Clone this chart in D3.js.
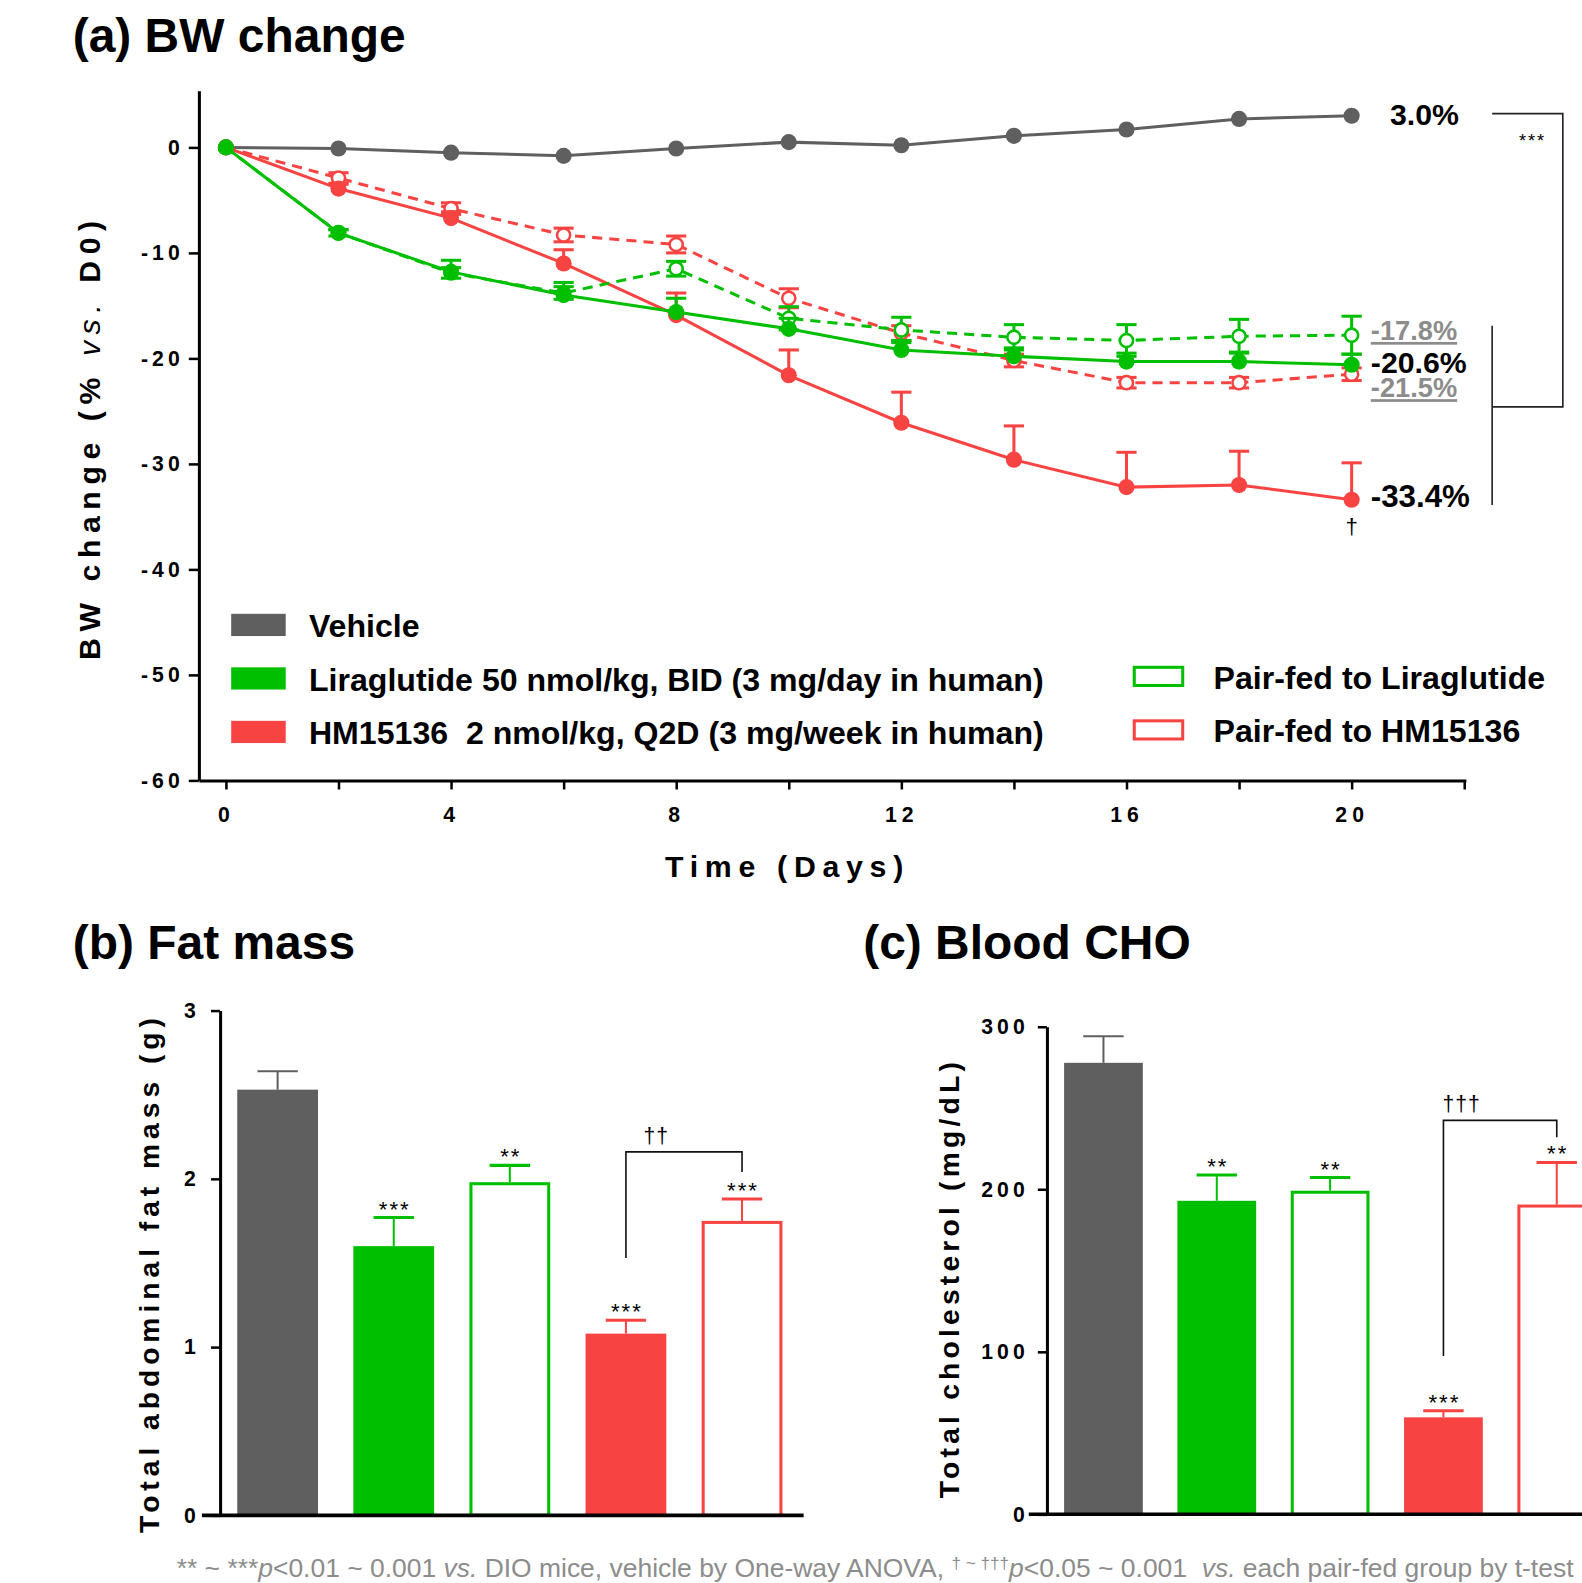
<!DOCTYPE html>
<html>
<head>
<meta charset="utf-8">
<script src="https://cdn.jsdelivr.net/npm/d3@7"></script>
<style>
  body { margin: 0; background: #fff; }
  svg { display: block; font-family: "Liberation Sans", Arial, sans-serif; }
  text { white-space: pre; }
</style>
</head>
<body>
<svg id="fig" width="1582" height="1583" viewBox="0 0 1567 1568"></svg>
<script>
// ---- (a) body weight change, % vs. D0 ----
const days = [0, 2, 4, 6, 8, 10, 12, 14, 16, 18, 20]
const vehicleBW = [0, -0.1, -0.5, -0.8, -0.1, 0.5, 0.2, 1.1, 1.7, 2.7, 3.0]
const liraBW = [0, -8.1, -11.8, -14.0, -15.6, -17.2, -19.2, -19.8, -20.3, -20.3, -20.6]
const liraErr = [0, 0.3, 1.1, 1.2, 1.3, 1.0, 0.9, 0.8, 0.8, 0.9, 1.0]
const pairLiraBW = [0, -8.1, -11.9, -13.8, -11.5, -16.2, -17.3, -18.0, -18.3, -17.9, -17.8]
const pairLiraErr = [0, 0.3, 0.5, 0.6, 0.7, 1.1, 1.2, 1.2, 1.5, 1.6, 1.8]
const hmBW = [0, -3.9, -6.7, -11.0, -15.9, -21.6, -26.1, -29.6, -32.2, -32.0, -33.4]
const hmErr = [0, 0.4, 0.6, 1.3, 2.1, 2.4, 2.9, 3.2, 3.3, 3.2, 3.5]
const pairHmBW = [0, -2.9, -5.8, -8.3, -9.2, -14.3, -17.6, -20.2, -22.3, -22.3, -21.5]
const pairHmErr = [0, 0.5, 0.55, 0.65, 0.8, 0.9, 0.7, 0.6, 0.5, 0.5, 0.6]

const legendLeft = ['Vehicle', 'Liraglutide 50 nmol/kg, BID (3 mg/day in human)', 'HM15136  2 nmol/kg, Q2D (3 mg/week in human)']
const legendRight = ['Pair-fed to Liraglutide', 'Pair-fed to HM15136']

// ---- (b) fat mass, (c) cholesterol ----
const groups = ['Vehicle', 'Liraglutide', 'Pair-fed Liraglutide', 'HM15136', 'Pair-fed HM15136']
const fatMass = [2.53, 1.60, 1.98, 1.08, 1.75]
const fatErr = [0.11, 0.17, 0.10, 0.08, 0.13]
const fatStars = ['', '***', '**', '***', '***']
const cholesterol = [277.8, 192.9, 199.1, 59.7, 190.6]
const cholErr = [16.4, 15.9, 8.1, 4.1, 25.9]
const cholStars = ['', '**', '**', '***', '**']

const GRAY = '#5f5f5f'
const GREEN = '#00bf00'
const RED = '#f84343'
const NOTE = '#8c8c8c'

const svg = d3.select('#fig')

// spread letters so a label covers a given length (Prism-like spacing)
const spread = (sel, target) => {
  sel.each(function () {
    this.setAttribute('letter-spacing', 0)
    const w = this.getComputedTextLength()
    const k = this.textContent.length
    this.setAttribute('letter-spacing', (target - w) / (k - 1))
  })
}

const styleAxis = (g, size, spacing) => {
  g.attr('font-family', null).attr('font-size', null)
  g.select('.domain').attr('stroke', '#000').attr('stroke-width', 3)
  g.selectAll('.tick line').attr('stroke', '#000').attr('stroke-width', 2.5)
  g.selectAll('.tick text')
    .attr('fill', '#000')
    .attr('font-size', size)
    .attr('font-weight', 'bold')
    .attr('letter-spacing', spacing)
}

// panel titles
const titles = [['(a) BW change', 72, 52], ['(b) Fat mass', 72, 950], ['(c) Blood CHO', 855, 950]]
svg.selectAll('text.title')
  .data(titles)
  .enter()
  .append('text')
  .classed('title', true)
  .attr('x', (d) => d[1])
  .attr('y', (d) => d[2])
  .attr('font-size', 47.5)
  .attr('font-weight', 'bold')
  .text((d) => d[0])

// ================= (a) =================
const x = d3.scaleLinear().domain([-0.48, 22.03]).range([197, 1452])
const y = d3.scaleLinear().domain([-60, 5.36]).range([773, 90])

const gx = svg.append('g')
  .attr('transform', 'translate(0,773)')
  .call(d3.axisBottom(x)
    .tickValues(d3.range(0, 23, 2))
    .tickFormat((d) => (d % 4 === 0 && d <= 20) ? String(d) : '')
    .tickSize(9)
    .tickPadding(17)
    .tickSizeOuter(0))
styleAxis(gx, 21, 5)

const gy = svg.append('g')
  .attr('transform', 'translate(197,0)')
  .call(d3.axisLeft(y)
    .tickValues(d3.range(-60, 1, 10))
    .tickFormat((d) => String(d))
    .tickSize(10)
    .tickPadding(5)
    .tickSizeOuter(0))
styleAxis(gy, 21, 4)

const xTitle = svg.append('text')
  .attr('x', 780)
  .attr('y', 869)
  .attr('text-anchor', 'middle')
  .attr('font-size', 30)
  .attr('font-weight', 'bold')
  .text('Time (Days)')
spread(xTitle, 236)

const yTitle = svg.append('text')
  .attr('transform', 'translate(99,433) rotate(-90)')
  .attr('text-anchor', 'middle')
  .attr('font-size', 30)
  .attr('font-weight', 'bold')
yTitle.append('tspan').text('BW change (% ')
yTitle.append('tspan').attr('font-style', 'italic').attr('font-weight', 'normal').text('vs.')
yTitle.append('tspan').text(' D0)')
spread(yTitle, 435)

const series = [
  {values: vehicleBW, err: null, color: GRAY, open: false},
  {values: pairHmBW, err: pairHmErr, color: RED, open: true},
  {values: hmBW, err: hmErr, color: RED, open: false},
  {values: pairLiraBW, err: pairLiraErr, color: GREEN, open: true},
  {values: liraBW, err: liraErr, color: GREEN, open: false}
]

const line = d3.line()
  .x((d, i) => x(days[i]))
  .y((d) => y(d))

const plot = svg.append('g').classed('series', true)
series.forEach((s) => {
  const g = plot.append('g')
  if (s.err) {
    const pts = days.map((d, i) => ({day: d, v: s.values[i], e: s.err[i]})).filter((p) => p.e > 0)
    const hi = (p) => y(p.v + p.e)
    const lo = (p) => y(p.v - p.e)
    g.selectAll('line.err')
      .data(pts)
      .enter()
      .append('line')
      .classed('err', true)
      .attr('x1', (p) => x(p.day))
      .attr('x2', (p) => x(p.day))
      .attr('y1', (p) => s.open ? lo(p) : y(p.v))
      .attr('y2', hi)
      .attr('stroke', s.color)
      .attr('stroke-width', 3)
    g.selectAll('line.cap')
      .data(s.open ? pts.concat(pts.map((p) => ({day: p.day, v: p.v, e: -p.e}))) : pts)
      .enter()
      .append('line')
      .classed('cap', true)
      .attr('x1', (p) => x(p.day) - 10)
      .attr('x2', (p) => x(p.day) + 10)
      .attr('y1', hi)
      .attr('y2', hi)
      .attr('stroke', s.color)
      .attr('stroke-width', 3)
  }
  g.append('path')
    .datum(s.values)
    .attr('d', line)
    .attr('fill', 'none')
    .attr('stroke', s.color)
    .attr('stroke-width', 3)
    .attr('stroke-dasharray', s.open ? '10,7' : null)
  g.selectAll('circle')
    .data(s.values)
    .enter()
    .append('circle')
    .attr('cx', (d, i) => x(days[i]))
    .attr('cy', (d) => y(d))
    .attr('r', s.open ? 6.5 : 8)
    .attr('fill', s.open ? '#fff' : s.color)
    .attr('stroke', s.color)
    .attr('stroke-width', s.open ? 2.5 : 0)
})

// end-of-study values
const last = days.length - 1
const endLabels = [
  {v: vehicleBW[last], dx: 38, dy: -2, size: 30, color: '#000', under: false},
  {v: pairLiraBW[last], dx: 19, dy: -5, size: 27, color: NOTE, under: true},
  {v: liraBW[last], dx: 19, dy: -3, size: 30, color: '#000', under: false},
  {v: pairHmBW[last], dx: 19, dy: 13, size: 27, color: NOTE, under: true},
  {v: hmBW[last], dx: 19, dy: -4, size: 31, color: '#000', under: false}
]
svg.selectAll('text.endlabel')
  .data(endLabels)
  .enter()
  .append('text')
  .classed('endlabel', true)
  .attr('x', (d) => x(days[last]) + d.dx)
  .attr('y', (d) => y(d.v) + d.dy)
  .attr('dy', '0.36em')
  .attr('font-size', (d) => d.size)
  .attr('font-weight', 'bold')
  .attr('fill', (d) => d.color)
  .attr('text-decoration', (d) => d.under ? 'underline' : null)
  .text((d) => d.v.toFixed(1) + '%')

svg.append('text')
  .attr('x', x(days[last]))
  .attr('y', y(hmBW[last]) + 34)
  .attr('text-anchor', 'middle')
  .attr('font-size', 22)
  .text('\u2020')

// significance brackets
const br = svg.append('g').attr('stroke', '#222').attr('stroke-width', 1.6).attr('fill', 'none')
br.append('path')
  .attr('d', 'M1478,' + y(vehicleBW[last] + 0.2) + 'H1548V' + y(-24.6) + 'H1478')
br.append('line')
  .attr('x1', 1478).attr('x2', 1478)
  .attr('y1', y(-16.9)).attr('y2', y(-33.9))
svg.append('text')
  .attr('x', 1518)
  .attr('y', 146)
  .attr('text-anchor', 'middle')
  .attr('font-size', 18)
  .attr('letter-spacing', 2)
  .text('***')

// legend
const colorsLeft = [GRAY, GREEN, RED]
const leg = svg.append('g').classed('legend', true)
legendLeft.forEach((name, i) => {
  const cy = 619 + i * 53
  leg.append('rect')
    .attr('x', 229).attr('y', cy - 11)
    .attr('width', 54).attr('height', 22)
    .attr('fill', colorsLeft[i])
  leg.append('text')
    .attr('x', 306).attr('y', cy + 12)
    .attr('font-size', 31.8).attr('font-weight', 'bold')
    .text(name)
})
const colorsRight = [GREEN, RED]
legendRight.forEach((name, i) => {
  const cy = 670 + i * 53
  leg.append('rect')
    .attr('x', 1123.5).attr('y', cy - 9)
    .attr('width', 48).attr('height', 18)
    .attr('fill', '#fff')
    .attr('stroke', colorsRight[i])
    .attr('stroke-width', 3)
  leg.append('text')
    .attr('x', 1202).attr('y', cy + 12)
    .attr('font-size', 31.8).attr('font-weight', 'bold')
    .text(name)
})

// ================= bar panels =================
const barColors = [GRAY, GREEN, GREEN, RED, RED]
const barOpen = [false, false, true, false, true]

const drawBars = ({values, errs, stars, centers, yDomain, yRange, ticks, axisX, xEnd, barW, pad, label, labelX, labelY, labelLen, bracket, daggers, daggerDx}) => {
  const bx = d3.scalePoint().domain(groups).range(centers)
  const by = d3.scaleLinear().domain(yDomain).range(yRange)
  const g = svg.append('g')
  const rows = groups.map((k, i) => ({k, v: values[i], e: errs[i], s: stars[i], c: barColors[i], open: barOpen[i]}))

  const bar = g.selectAll('g.bar')
    .data(rows)
    .enter()
    .append('g')
    .classed('bar', true)
  bar.append('line')
    .attr('x1', (d) => bx(d.k)).attr('x2', (d) => bx(d.k))
    .attr('y1', (d) => by(d.v)).attr('y2', (d) => by(d.v + d.e))
    .attr('stroke', (d) => d.c).attr('stroke-width', 2)
  bar.append('line')
    .attr('x1', (d) => bx(d.k) - 20).attr('x2', (d) => bx(d.k) + 20)
    .attr('y1', (d) => by(d.v + d.e)).attr('y2', (d) => by(d.v + d.e))
    .attr('stroke', (d) => d.c).attr('stroke-width', (d) => d.k === groups[0] ? 2 : 3)
  bar.append('rect')
    .attr('x', (d) => bx(d.k) - barW / 2 + (d.open ? 1.5 : 0))
    .attr('y', (d) => by(d.v) + (d.open ? 1.5 : 0))
    .attr('width', (d) => barW - (d.open ? 3 : 0))
    .attr('height', (d) => by(yDomain[0]) - by(d.v) - (d.open ? 1.5 : 0))
    .attr('fill', (d) => d.open ? '#fff' : d.c)
    .attr('stroke', (d) => d.open ? d.c : 'none')
    .attr('stroke-width', 3)
  bar.append('text')
    .attr('x', (d) => bx(d.k) + 1)
    .attr('y', (d) => by(d.v + d.e) - 1)
    .attr('text-anchor', 'middle')
    .attr('font-size', 22)
    .attr('letter-spacing', 2)
    .text((d) => d.s)

  // x baseline
  g.append('line')
    .attr('x1', axisX - 18).attr('x2', xEnd)
    .attr('y1', by(yDomain[0])).attr('y2', by(yDomain[0]))
    .attr('stroke', '#000').attr('stroke-width', 3.5)

  const ay = g.append('g')
    .attr('transform', 'translate(' + axisX + ',0)')
    .call(d3.axisLeft(by)
      .tickValues(ticks)
      .tickFormat((d) => String(d))
      .tickSize(9)
      .tickPadding(pad)
      .tickSizeOuter(0))
  styleAxis(ay, 21, 4)

  const t = g.append('text')
    .attr('transform', 'translate(' + labelX + ',' + labelY + ') rotate(-90)')
    .attr('text-anchor', 'middle')
    .attr('font-size', 28)
    .attr('font-weight', 'bold')
    .text(label)
  spread(t, labelLen)

  // pair-fed comparison
  const [from, to, vLow, vTop, vRight] = bracket
  g.append('path')
    .attr('d', 'M' + bx(groups[from]) + ',' + by(vLow) + 'V' + by(vTop) + 'H' + bx(groups[to]) + 'V' + by(vRight))
    .attr('fill', 'none').attr('stroke', '#111').attr('stroke-width', 1.6)
  g.append('text')
    .attr('x', bx(groups[from]) + daggerDx)
    .attr('y', by(vTop) - 9)
    .attr('text-anchor', 'middle')
    .attr('font-size', 21)
    .attr('letter-spacing', 1)
    .text(daggers)
}

drawBars({
  values: fatMass, errs: fatErr, stars: fatStars,
  centers: [275, 735], yDomain: [0, 3], yRange: [1501, 1001], ticks: [0, 1, 2, 3],
  axisX: 218, xEnd: 796, barW: 80, pad: 11,
  label: 'Total abdominal fat mass (g)', labelX: 157, labelY: 1261, labelLen: 510,
  bracket: [3, 4, 1.53, 2.16, 2.04], daggers: '\u2020\u2020', daggerDx: 30
})

drawBars({
  values: cholesterol, errs: cholErr, stars: cholStars,
  centers: [1093, 1542], yDomain: [0, 300], yRange: [1500, 1017], ticks: [0, 100, 200, 300],
  axisX: 1037, xEnd: 1600, barW: 78, pad: 9,
  label: 'Total cholesterol (mg/dL)', labelX: 950, labelY: 1266, labelLen: 432,
  bracket: [3, 4, 97.4, 242.4, 232.0], daggers: '\u2020\u2020\u2020', daggerDx: 18
})

// footnote
const note = svg.append('text')
  .attr('x', 175)
  .attr('y', 1562)
  .attr('font-size', 26.2)
  .attr('fill', NOTE)
const part = (txt, opts = {}) => {
  const ts = note.append('tspan').text(txt)
  if (opts.italic) ts.attr('font-style', 'italic')
  if (opts.sup) ts.attr('font-size', 17).attr('baseline-shift', '45%')
  return ts
}
part('** ~ ***')
part('p', {italic: true})
part('<0.01 ~ 0.001 ')
part('vs.', {italic: true})
part(' DIO mice, vehicle by One-way ANOVA, ')
part('\u2020 ~ \u2020\u2020\u2020', {sup: true})
part('p', {italic: true})
part('<0.05 ~ 0.001  ')
part('vs.', {italic: true})
part(' each pair-fed group by t-test')
</script>
</body>
</html>
